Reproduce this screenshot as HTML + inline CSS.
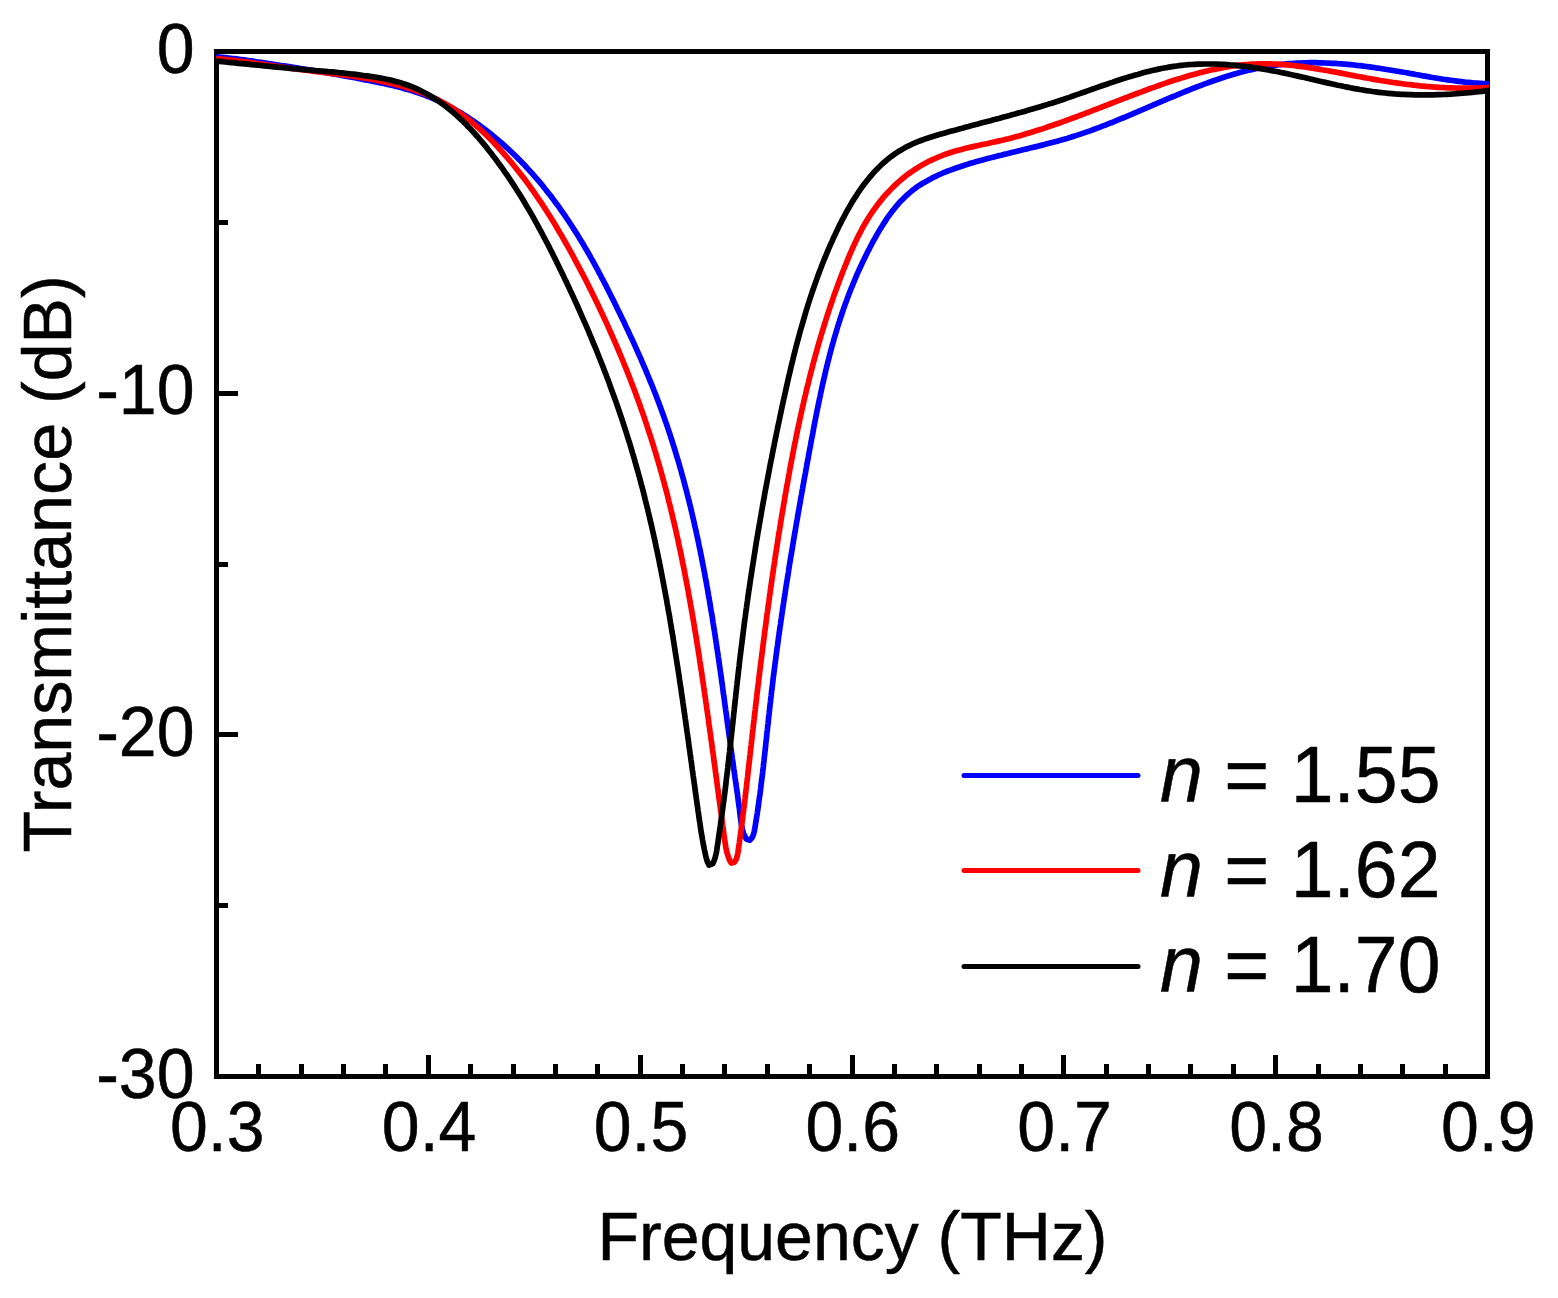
<!DOCTYPE html>
<html><head><meta charset="utf-8"><title>Transmittance vs Frequency</title>
<style>
html,body{margin:0;padding:0;background:#fff;}
body{width:1558px;height:1298px;overflow:hidden;}
svg{display:block;}
text{font-family:"Liberation Sans",Arial,sans-serif;fill:#000;stroke:#000;stroke-width:0.5px;}
</style></head><body>
<svg width="1558" height="1298" viewBox="0 0 1558 1298">
<defs><clipPath id="pc"><rect x="216" y="52" width="1273" height="1024"/></clipPath></defs>
<rect width="1558" height="1298" fill="#fff"/>
<g stroke="#000" stroke-width="5" fill="none" shape-rendering="crispEdges">
<rect x="216.5" y="51.5" width="1271.0" height="1025.0"/>
<path d="M258.5,1076.5v-12.5M301.5,1076.5v-12.5M343.5,1076.5v-12.5M385.5,1076.5v-12.5M428.5,1076.5v-22M470.5,1076.5v-12.5M513.5,1076.5v-12.5M555.5,1076.5v-12.5M597.5,1076.5v-12.5M640.5,1076.5v-22M682.5,1076.5v-12.5M724.5,1076.5v-12.5M767.5,1076.5v-12.5M809.5,1076.5v-12.5M852.5,1076.5v-22M894.5,1076.5v-12.5M936.5,1076.5v-12.5M979.5,1076.5v-12.5M1021.5,1076.5v-12.5M1063.5,1076.5v-22M1106.5,1076.5v-12.5M1148.5,1076.5v-12.5M1190.5,1076.5v-12.5M1233.5,1076.5v-12.5M1275.5,1076.5v-22M1318.5,1076.5v-12.5M1360.5,1076.5v-12.5M1402.5,1076.5v-12.5M1445.5,1076.5v-12.5M216.5,222.5h11.5M216.5,393.5h21.5M216.5,564.5h11.5M216.5,734.5h21.5M216.5,905.5h11.5"/>
</g>
<g fill="none" stroke-width="5.7" stroke-linejoin="round" stroke-linecap="butt" clip-path="url(#pc)">
<path d="M216.0,56.7L219.1,57.0L222.2,57.3L225.3,57.6L228.4,58.0L231.5,58.4L234.6,58.7L237.7,59.1L240.8,59.5L243.9,59.9L247.0,60.4L250.1,60.8L253.2,61.2L256.3,61.7L259.4,62.2L262.5,62.6L265.6,63.1L268.7,63.6L271.8,64.0L274.9,64.5L277.9,65.0L281.0,65.5L284.1,65.9L287.2,66.4L290.3,66.9L293.4,67.4L296.5,67.9L299.5,68.4L302.6,68.8L305.7,69.3L308.8,69.8L311.9,70.3L314.9,70.8L318.0,71.4L321.1,71.9L324.2,72.4L327.2,72.9L330.3,73.4L333.4,74.0L336.5,74.5L339.5,75.0L342.6,75.6L345.7,76.1L348.8,76.7L351.8,77.3L354.9,77.8L358.0,78.4L361.0,79.0L364.1,79.6L367.2,80.2L370.3,80.8L373.3,81.4L376.4,82.0L379.5,82.6L382.5,83.3L385.6,83.9L388.7,84.6L391.7,85.3L394.8,86.1L397.8,86.8L400.8,87.6L403.8,88.4L406.8,89.3L409.8,90.1L412.8,91.0L415.8,92.0L418.7,93.0L421.7,94.0L424.6,95.1L427.5,96.3L430.4,97.4L433.3,98.7L436.1,99.9L438.9,101.2L441.8,102.6L444.6,103.9L447.3,105.4L450.1,106.8L452.8,108.3L455.6,109.9L458.3,111.4L461.0,113.0L463.6,114.7L466.3,116.3L468.9,118.0L471.5,119.8L474.1,121.5L476.7,123.3L479.2,125.1L481.7,127.0L484.2,128.8L486.7,130.7L489.2,132.7L491.6,134.6L494.0,136.6L496.4,138.6L498.8,140.6L501.2,142.6L503.5,144.7L505.8,146.8L508.1,148.9L510.4,151.0L512.7,153.2L514.9,155.3L517.1,157.5L519.3,159.8L521.5,162.0L523.7,164.2L525.8,166.5L527.9,168.8L530.0,171.1L532.1,173.4L534.2,175.8L536.2,178.2L538.3,180.5L540.3,182.9L542.3,185.3L544.2,187.8L546.2,190.2L548.1,192.7L550.0,195.1L552.0,197.6L553.8,200.1L555.7,202.7L557.6,205.2L559.4,207.7L561.2,210.3L563.0,212.8L564.8,215.4L566.5,218.0L568.3,220.6L570.0,223.2L571.7,225.8L573.4,228.5L575.1,231.1L576.8,233.7L578.4,236.4L580.0,239.1L581.7,241.7L583.3,244.4L584.8,247.1L586.4,249.8L588.0,252.5L589.5,255.2L591.0,257.9L592.6,260.6L594.1,263.3L595.6,266.1L597.1,268.8L598.5,271.6L600.0,274.3L601.4,277.1L602.9,279.8L604.3,282.6L605.8,285.4L607.2,288.1L608.6,290.9L610.0,293.7L611.4,296.5L612.8,299.3L614.2,302.1L615.6,304.9L616.9,307.7L618.3,310.5L619.7,313.3L621.0,316.1L622.4,318.9L623.8,321.7L625.1,324.6L626.4,327.4L627.8,330.2L629.1,333.1L630.4,335.9L631.8,338.7L633.1,341.6L634.4,344.4L635.7,347.3L636.9,350.1L638.2,353.0L639.5,355.9L640.8,358.7L642.0,361.6L643.2,364.5L644.5,367.3L645.7,370.2L646.9,373.1L648.1,376.0L649.3,378.9L650.5,381.8L651.7,384.7L652.9,387.6L654.0,390.5L655.2,393.4L656.3,396.3L657.4,399.2L658.5,402.1L659.6,405.1L660.7,408.0L661.8,410.9L662.9,413.9L663.9,416.8L664.9,419.8L666.0,422.7L667.0,425.7L668.0,428.6L669.0,431.6L670.0,434.5L670.9,437.5L671.9,440.5L672.8,443.4L673.8,446.4L674.7,449.4L675.6,452.4L676.5,455.4L677.4,458.3L678.3,461.3L679.2,464.3L680.0,467.3L680.9,470.3L681.7,473.3L682.5,476.3L683.4,479.3L684.2,482.4L685.0,485.4L685.8,488.4L686.6,491.4L687.3,494.4L688.1,497.4L688.9,500.5L689.6,503.5L690.4,506.5L691.1,509.6L691.8,512.6L692.5,515.6L693.2,518.7L693.9,521.7L694.6,524.8L695.3,527.8L696.0,530.9L696.6,533.9L697.3,537.0L698.0,540.0L698.6,543.1L699.2,546.1L699.9,549.2L700.5,552.3L701.1,555.3L701.7,558.4L702.3,561.5L702.9,564.5L703.5,567.6L704.1,570.7L704.7,573.7L705.2,576.8L705.8,579.9L706.4,583.0L706.9,586.0L707.5,589.1L708.0,592.2L708.5,595.3L709.1,598.4L709.6,601.5L710.1,604.5L710.6,607.6L711.1,610.7L711.7,613.8L712.2,616.9L712.7,620.0L713.1,623.1L713.6,626.1L714.1,629.2L714.6,632.3L715.1,635.4L715.5,638.5L716.0,641.6L716.5,644.7L716.9,647.8L717.4,650.9L717.9,654.0L718.3,657.1L718.8,660.1L719.2,663.2L719.6,666.3L720.1,669.4L720.5,672.5L721.0,675.6L721.4,678.7L721.8,681.8L722.3,684.9L722.7,688.0L723.1,691.1L723.5,694.2L724.0,697.3L724.4,700.4L724.8,703.5L725.2,706.5L725.6,709.6L726.1,712.7L726.5,715.8L726.9,718.9L727.3,722.0L727.7,725.1L728.2,728.2L728.6,731.3L729.0,734.4L729.4,737.5L729.9,740.6L730.3,743.7L730.7,746.7L731.1,749.8L731.6,752.9L732.0,756.0L732.4,759.1L732.9,762.2L733.3,765.3L733.7,768.4L734.2,771.5L734.6,774.6L735.0,777.6L735.5,780.7L735.9,783.8L736.4,786.9L736.8,790.0L737.3,793.1L737.7,796.2L738.1,799.3L738.5,802.4L738.9,805.5L739.4,808.6L739.7,811.7L740.1,814.8L740.5,817.9L740.9,821.0L741.3,824.1L741.9,827.2L742.6,830.3L743.5,833.3L744.8,836.2L746.4,839.1L749.7,840.2L752.0,837.8L753.4,834.8L754.2,831.6L754.8,828.5L755.3,825.4L755.8,822.3L756.3,819.3L756.8,816.2L757.3,813.1L757.7,810.1L758.2,807.0L758.6,803.9L759.0,800.9L759.4,797.8L759.9,794.7L760.3,791.6L760.7,788.5L761.0,785.4L761.4,782.3L761.8,779.2L762.2,776.1L762.6,773.1L762.9,770.0L763.3,766.8L763.6,763.7L764.0,760.6L764.3,757.5L764.7,754.4L765.0,751.3L765.4,748.2L765.7,745.1L766.0,742.0L766.4,738.9L766.7,735.8L767.0,732.6L767.4,729.5L767.7,726.4L768.1,723.3L768.4,720.2L768.7,717.1L769.1,714.0L769.4,710.9L769.8,707.7L770.1,704.6L770.5,701.5L770.8,698.4L771.2,695.3L771.5,692.2L771.9,689.1L772.3,686.0L772.7,682.9L773.0,679.8L773.4,676.7L773.8,673.6L774.2,670.5L774.6,667.4L775.0,664.3L775.4,661.2L775.8,658.1L776.2,655.0L776.6,651.9L777.0,648.8L777.5,645.7L777.9,642.6L778.3,639.5L778.7,636.4L779.2,633.3L779.6,630.2L780.0,627.1L780.5,624.1L780.9,621.0L781.4,617.9L781.8,614.8L782.3,611.7L782.7,608.6L783.2,605.5L783.7,602.4L784.1,599.4L784.6,596.3L785.1,593.2L785.5,590.1L786.0,587.0L786.5,583.9L787.0,580.9L787.5,577.8L788.0,574.7L788.5,571.6L788.9,568.5L789.4,565.5L789.9,562.4L790.4,559.3L790.9,556.2L791.5,553.1L792.0,550.1L792.5,547.0L793.0,543.9L793.5,540.8L794.0,537.8L794.5,534.7L795.1,531.6L795.6,528.5L796.1,525.4L796.6,522.4L797.2,519.3L797.7,516.2L798.2,513.1L798.8,510.1L799.3,507.0L799.9,503.9L800.4,500.8L800.9,497.8L801.5,494.7L802.0,491.6L802.6,488.5L803.1,485.5L803.7,482.4L804.2,479.3L804.8,476.2L805.4,473.2L805.9,470.1L806.5,467.0L807.0,463.9L807.6,460.9L808.2,457.8L808.7,454.7L809.3,451.6L809.9,448.5L810.5,445.5L811.0,442.4L811.6,439.3L812.2,436.2L812.8,433.2L813.3,430.1L813.9,427.0L814.5,423.9L815.1,420.9L815.7,417.8L816.3,414.7L816.9,411.6L817.5,408.6L818.2,405.5L818.8,402.4L819.4,399.4L820.1,396.3L820.7,393.3L821.4,390.2L822.0,387.1L822.7,384.1L823.4,381.0L824.1,378.0L824.8,375.0L825.5,371.9L826.2,368.9L827.0,365.8L827.7,362.8L828.5,359.8L829.2,356.8L830.0,353.8L830.8,350.7L831.6,347.7L832.4,344.7L833.3,341.7L834.1,338.7L835.0,335.7L835.9,332.8L836.8,329.8L837.7,326.8L838.6,323.8L839.6,320.9L840.5,317.9L841.5,315.0L842.5,312.0L843.5,309.1L844.5,306.1L845.6,303.2L846.7,300.3L847.7,297.4L848.8,294.5L850.0,291.5L851.1,288.6L852.3,285.8L853.5,282.9L854.7,280.0L855.9,277.1L857.1,274.2L858.4,271.4L859.7,268.5L861.0,265.7L862.3,262.9L863.7,260.0L865.0,257.2L866.4,254.4L867.8,251.6L869.3,248.8L870.7,246.0L872.2,243.2L873.7,240.4L875.3,237.6L876.8,234.9L878.4,232.1L880.0,229.4L881.7,226.7L883.4,224.0L885.1,221.4L886.8,218.7L888.6,216.2L890.5,213.6L892.3,211.1L894.3,208.7L896.2,206.3L898.3,203.9L900.3,201.6L902.5,199.4L904.7,197.2L906.9,195.1L909.2,193.1L911.6,191.1L914.0,189.2L916.4,187.4L919.0,185.7L921.6,184.0L924.2,182.4L926.9,180.9L929.6,179.4L932.3,177.9L935.1,176.6L938.0,175.2L940.8,174.0L943.7,172.7L946.6,171.5L949.6,170.4L952.5,169.3L955.5,168.2L958.5,167.2L961.5,166.2L964.5,165.2L967.6,164.3L970.6,163.3L973.6,162.4L976.6,161.6L979.7,160.7L982.7,159.9L985.7,159.1L988.7,158.2L991.8,157.5L994.8,156.7L997.8,155.9L1000.9,155.2L1003.9,154.4L1006.9,153.7L1010.0,152.9L1013.0,152.2L1016.0,151.5L1019.0,150.7L1022.0,150.0L1025.1,149.3L1028.1,148.6L1031.1,147.8L1034.1,147.1L1037.1,146.4L1040.1,145.6L1043.1,144.9L1046.1,144.1L1049.1,143.3L1052.1,142.5L1055.1,141.7L1058.1,140.9L1061.1,140.1L1064.1,139.2L1067.1,138.4L1070.0,137.5L1073.0,136.5L1075.9,135.6L1078.9,134.6L1081.9,133.6L1084.8,132.6L1087.7,131.6L1090.7,130.6L1093.6,129.5L1096.6,128.4L1099.5,127.3L1102.4,126.2L1105.3,125.1L1108.2,123.9L1111.2,122.8L1114.1,121.6L1117.0,120.4L1119.9,119.2L1122.8,118.0L1125.7,116.8L1128.6,115.6L1131.5,114.4L1134.4,113.1L1137.3,111.9L1140.2,110.6L1143.1,109.4L1146.0,108.2L1148.9,106.9L1151.8,105.7L1154.7,104.4L1157.6,103.2L1160.5,101.9L1163.4,100.7L1166.3,99.4L1169.2,98.2L1172.1,97.0L1175.0,95.8L1177.9,94.6L1180.8,93.4L1183.7,92.2L1186.6,91.0L1189.5,89.8L1192.4,88.7L1195.4,87.5L1198.3,86.4L1201.2,85.3L1204.1,84.2L1207.1,83.1L1210.0,82.0L1212.9,81.0L1215.9,80.0L1218.8,79.0L1221.8,78.0L1224.7,77.0L1227.7,76.1L1230.6,75.2L1233.6,74.3L1236.6,73.4L1239.6,72.6L1242.5,71.8L1245.5,71.0L1248.5,70.3L1251.5,69.6L1254.5,68.9L1257.6,68.2L1260.6,67.6L1263.6,67.0L1266.7,66.5L1269.7,66.0L1272.8,65.5L1275.8,65.1L1278.9,64.7L1282.0,64.3L1285.0,64.0L1288.1,63.7L1291.2,63.5L1294.3,63.3L1297.4,63.1L1300.5,63.0L1303.7,62.9L1306.8,62.8L1309.9,62.7L1313.0,62.7L1316.2,62.7L1319.3,62.8L1322.5,62.9L1325.6,63.0L1328.7,63.1L1331.9,63.3L1335.0,63.4L1338.2,63.7L1341.3,63.9L1344.5,64.1L1347.6,64.4L1350.7,64.7L1353.9,65.0L1357.0,65.4L1360.2,65.7L1363.3,66.1L1366.4,66.5L1369.5,66.9L1372.7,67.3L1375.8,67.8L1378.9,68.2L1382.0,68.7L1385.1,69.2L1388.2,69.7L1391.3,70.2L1394.4,70.7L1397.5,71.2L1400.5,71.7L1403.6,72.3L1406.7,72.8L1409.7,73.4L1412.8,73.9L1415.8,74.5L1418.9,75.0L1421.9,75.6L1425.0,76.1L1428.0,76.6L1431.1,77.2L1434.1,77.7L1437.2,78.2L1440.2,78.7L1443.3,79.2L1446.3,79.6L1449.4,80.1L1452.5,80.5L1455.5,80.9L1458.6,81.3L1461.7,81.7L1464.8,82.1L1467.9,82.4L1471.1,82.7L1474.2,83.0L1477.3,83.2L1480.5,83.4L1483.6,83.6L1486.8,83.8L1490.0,83.9L1490.0,83.9" stroke="#0000ff"/>
<path d="M216.0,58.6L219.2,58.9L222.4,59.2L225.6,59.5L228.7,59.9L231.9,60.2L235.1,60.6L238.3,61.0L241.4,61.4L244.6,61.8L247.8,62.2L250.9,62.6L254.1,63.0L257.3,63.5L260.4,63.9L263.6,64.4L266.8,64.8L269.9,65.3L273.1,65.7L276.2,66.2L279.4,66.6L282.6,67.1L285.7,67.5L288.9,68.0L292.1,68.4L295.2,68.8L298.4,69.3L301.6,69.7L304.7,70.1L307.9,70.5L311.1,70.9L314.3,71.3L317.4,71.7L320.6,72.0L323.8,72.4L327.0,72.8L330.1,73.2L333.3,73.6L336.5,74.0L339.7,74.4L342.8,74.8L346.0,75.3L349.2,75.7L352.3,76.2L355.5,76.6L358.7,77.1L361.8,77.6L365.0,78.1L368.1,78.7L371.3,79.2L374.4,79.8L377.5,80.4L380.7,81.1L383.8,81.7L386.9,82.4L390.0,83.1L393.2,83.9L396.3,84.7L399.4,85.5L402.4,86.3L405.5,87.2L408.6,88.2L411.6,89.1L414.7,90.1L417.7,91.2L420.7,92.3L423.7,93.4L426.6,94.6L429.6,95.9L432.5,97.2L435.4,98.5L438.2,99.9L441.0,101.4L443.8,102.9L446.6,104.5L449.3,106.1L452.0,107.7L454.7,109.5L457.3,111.3L460.0,113.1L462.5,114.9L465.1,116.9L467.6,118.8L470.1,120.8L472.6,122.8L475.0,124.9L477.4,127.0L479.8,129.2L482.2,131.3L484.5,133.5L486.9,135.8L489.1,138.0L491.4,140.3L493.7,142.6L495.9,145.0L498.1,147.3L500.2,149.7L502.4,152.1L504.5,154.5L506.6,156.9L508.7,159.3L510.8,161.8L512.8,164.3L514.8,166.7L516.8,169.2L518.8,171.7L520.8,174.2L522.7,176.8L524.7,179.3L526.6,181.9L528.5,184.4L530.3,187.0L532.2,189.6L534.0,192.2L535.8,194.8L537.6,197.5L539.4,200.1L541.2,202.7L543.0,205.4L544.7,208.1L546.4,210.7L548.1,213.4L549.8,216.1L551.5,218.8L553.2,221.5L554.9,224.3L556.5,227.0L558.1,229.7L559.7,232.5L561.4,235.2L562.9,238.0L564.5,240.7L566.1,243.5L567.7,246.3L569.2,249.1L570.8,251.9L572.3,254.7L573.8,257.5L575.3,260.3L576.8,263.1L578.3,265.9L579.8,268.8L581.3,271.6L582.8,274.4L584.3,277.3L585.7,280.1L587.2,283.0L588.6,285.8L590.0,288.7L591.5,291.5L592.9,294.4L594.3,297.3L595.7,300.2L597.1,303.0L598.5,305.9L599.8,308.8L601.2,311.7L602.6,314.6L603.9,317.5L605.3,320.4L606.6,323.3L607.9,326.2L609.2,329.1L610.5,332.1L611.8,335.0L613.1,337.9L614.4,340.9L615.7,343.8L616.9,346.7L618.2,349.7L619.4,352.6L620.7,355.6L621.9,358.5L623.1,361.5L624.3,364.5L625.5,367.4L626.7,370.4L627.9,373.4L629.1,376.3L630.2,379.3L631.4,382.3L632.5,385.3L633.7,388.3L634.8,391.3L635.9,394.3L637.0,397.3L638.1,400.3L639.2,403.3L640.3,406.3L641.3,409.3L642.4,412.3L643.5,415.4L644.5,418.4L645.5,421.4L646.5,424.4L647.5,427.5L648.5,430.5L649.5,433.5L650.5,436.6L651.5,439.6L652.4,442.7L653.4,445.7L654.3,448.8L655.3,451.8L656.2,454.9L657.1,458.0L658.0,461.0L658.9,464.1L659.8,467.2L660.6,470.2L661.5,473.3L662.3,476.4L663.2,479.5L664.0,482.5L664.8,485.6L665.7,488.7L666.5,491.8L667.3,494.9L668.1,498.0L668.8,501.1L669.6,504.2L670.4,507.3L671.1,510.4L671.9,513.5L672.6,516.6L673.3,519.7L674.1,522.8L674.8,525.9L675.5,529.0L676.2,532.2L676.9,535.3L677.6,538.4L678.3,541.5L678.9,544.6L679.6,547.8L680.3,550.9L680.9,554.0L681.6,557.1L682.2,560.3L682.8,563.4L683.5,566.5L684.1,569.7L684.7,572.8L685.3,576.0L685.9,579.1L686.5,582.2L687.1,585.4L687.7,588.5L688.3,591.7L688.8,594.8L689.4,598.0L690.0,601.1L690.5,604.3L691.1,607.4L691.6,610.6L692.2,613.7L692.7,616.9L693.3,620.0L693.8,623.2L694.3,626.3L694.8,629.5L695.4,632.6L695.9,635.8L696.4,639.0L696.9,642.1L697.4,645.3L697.9,648.4L698.4,651.6L698.9,654.8L699.4,657.9L699.8,661.1L700.3,664.3L700.8,667.4L701.3,670.6L701.8,673.7L702.2,676.9L702.7,680.1L703.2,683.2L703.6,686.4L704.1,689.6L704.5,692.7L705.0,695.9L705.5,699.1L705.9,702.2L706.4,705.4L706.8,708.6L707.3,711.7L707.7,714.9L708.2,718.0L708.6,721.2L709.0,724.4L709.5,727.5L709.9,730.7L710.4,733.9L710.8,737.0L711.2,740.2L711.7,743.4L712.1,746.5L712.5,749.7L713.0,752.9L713.4,756.0L713.8,759.2L714.2,762.3L714.7,765.5L715.1,768.7L715.5,771.8L715.9,775.0L716.4,778.2L716.8,781.3L717.2,784.5L717.6,787.7L718.1,790.8L718.5,794.0L718.9,797.2L719.3,800.3L719.8,803.5L720.2,806.7L720.6,809.8L721.0,813.0L721.5,816.2L721.9,819.3L722.3,822.5L722.7,825.6L723.2,828.8L723.6,832.0L724.0,835.1L724.4,838.3L724.9,841.5L725.4,844.6L725.9,847.8L726.6,851.0L727.4,854.1L728.5,857.2L729.7,860.4L731.3,863.0L734.4,862.2L736.2,859.3L737.2,856.1L737.9,852.7L738.4,849.5L738.8,846.3L739.3,843.1L739.7,840.0L740.2,836.8L740.6,833.7L741.0,830.6L741.4,827.4L741.8,824.3L742.2,821.1L742.6,818.0L743.0,814.8L743.4,811.7L743.8,808.5L744.2,805.3L744.6,802.2L745.0,799.0L745.3,795.8L745.7,792.7L746.1,789.5L746.5,786.3L746.8,783.1L747.2,780.0L747.6,776.8L747.9,773.6L748.3,770.4L748.6,767.2L749.0,764.1L749.4,760.9L749.7,757.7L750.1,754.5L750.4,751.3L750.8,748.1L751.2,745.0L751.5,741.8L751.9,738.6L752.2,735.4L752.6,732.2L753.0,729.0L753.3,725.9L753.7,722.7L754.1,719.5L754.4,716.3L754.8,713.1L755.2,710.0L755.5,706.8L755.9,703.6L756.3,700.4L756.7,697.3L757.0,694.1L757.4,690.9L757.8,687.7L758.2,684.5L758.6,681.4L758.9,678.2L759.3,675.0L759.7,671.9L760.1,668.7L760.5,665.5L760.9,662.3L761.3,659.2L761.7,656.0L762.1,652.8L762.5,649.7L762.9,646.5L763.3,643.3L763.7,640.1L764.1,637.0L764.5,633.8L764.9,630.6L765.4,627.5L765.8,624.3L766.2,621.1L766.6,618.0L767.0,614.8L767.5,611.6L767.9,608.5L768.3,605.3L768.8,602.1L769.2,599.0L769.6,595.8L770.1,592.7L770.5,589.5L771.0,586.3L771.4,583.2L771.9,580.0L772.3,576.9L772.8,573.7L773.3,570.5L773.7,567.4L774.2,564.2L774.7,561.1L775.1,557.9L775.6,554.7L776.1,551.6L776.6,548.4L777.1,545.3L777.6,542.1L778.1,539.0L778.5,535.8L779.0,532.7L779.6,529.5L780.1,526.3L780.6,523.2L781.1,520.0L781.6,516.9L782.1,513.7L782.7,510.6L783.2,507.4L783.7,504.3L784.3,501.1L784.8,498.0L785.3,494.8L785.9,491.7L786.4,488.5L787.0,485.4L787.6,482.2L788.1,479.1L788.7,475.9L789.3,472.8L789.8,469.7L790.4,466.5L791.0,463.4L791.6,460.2L792.2,457.1L792.8,453.9L793.4,450.8L794.0,447.7L794.6,444.5L795.3,441.4L795.9,438.2L796.5,435.1L797.2,432.0L797.8,428.8L798.5,425.7L799.2,422.6L799.8,419.5L800.5,416.3L801.2,413.2L801.9,410.1L802.6,407.0L803.3,403.8L804.0,400.7L804.7,397.6L805.5,394.5L806.2,391.4L806.9,388.3L807.7,385.2L808.5,382.1L809.2,379.0L810.0,375.9L810.8,372.8L811.6,369.7L812.4,366.6L813.2,363.5L814.0,360.4L814.9,357.3L815.7,354.2L816.6,351.2L817.4,348.1L818.3,345.0L819.2,341.9L820.1,338.9L821.0,335.8L821.9,332.7L822.8,329.7L823.8,326.6L824.7,323.6L825.7,320.5L826.6,317.5L827.6,314.5L828.6,311.4L829.6,308.4L830.6,305.4L831.7,302.3L832.7,299.3L833.7,296.3L834.8,293.3L835.9,290.3L837.0,287.3L838.1,284.3L839.2,281.3L840.3,278.3L841.5,275.3L842.6,272.3L843.8,269.3L845.0,266.3L846.2,263.4L847.4,260.4L848.6,257.4L849.8,254.5L851.1,251.6L852.4,248.6L853.7,245.7L855.1,242.8L856.4,239.9L857.8,237.0L859.3,234.2L860.7,231.4L862.2,228.5L863.8,225.7L865.4,223.0L867.0,220.2L868.7,217.5L870.4,214.8L872.2,212.2L874.0,209.6L875.9,207.0L877.8,204.4L879.8,201.9L881.8,199.4L883.8,196.9L885.9,194.5L888.1,192.2L890.3,189.9L892.5,187.6L894.8,185.4L897.2,183.2L899.5,181.1L902.0,179.0L904.4,177.0L906.9,175.0L909.5,173.1L912.1,171.3L914.7,169.5L917.4,167.8L920.1,166.1L922.9,164.5L925.7,163.0L928.5,161.5L931.4,160.1L934.3,158.8L937.3,157.5L940.2,156.3L943.2,155.1L946.2,154.0L949.3,153.0L952.3,152.0L955.4,151.1L958.5,150.2L961.6,149.4L964.7,148.6L967.8,147.8L970.9,147.1L974.1,146.4L977.2,145.7L980.4,145.0L983.5,144.3L986.7,143.7L989.8,143.0L992.9,142.3L996.1,141.6L999.2,140.9L1002.3,140.2L1005.4,139.4L1008.5,138.7L1011.6,137.9L1014.7,137.1L1017.8,136.2L1020.9,135.4L1023.9,134.5L1027.0,133.6L1030.0,132.7L1033.1,131.7L1036.1,130.8L1039.2,129.8L1042.2,128.9L1045.2,127.9L1048.2,126.8L1051.2,125.8L1054.2,124.8L1057.2,123.7L1060.2,122.7L1063.2,121.6L1066.2,120.5L1069.2,119.4L1072.2,118.3L1075.2,117.2L1078.2,116.1L1081.1,115.0L1084.1,113.9L1087.1,112.7L1090.1,111.6L1093.0,110.4L1096.0,109.3L1099.0,108.1L1102.0,107.0L1104.9,105.8L1107.9,104.7L1110.9,103.5L1113.9,102.4L1116.9,101.2L1119.8,100.1L1122.8,98.9L1125.8,97.8L1128.8,96.6L1131.8,95.5L1134.8,94.3L1137.8,93.2L1140.8,92.1L1143.8,91.0L1146.8,89.8L1149.8,88.7L1152.9,87.6L1155.9,86.6L1158.9,85.5L1162.0,84.4L1165.0,83.4L1168.1,82.3L1171.1,81.3L1174.2,80.3L1177.2,79.3L1180.3,78.4L1183.4,77.4L1186.5,76.5L1189.5,75.6L1192.6,74.7L1195.7,73.9L1198.8,73.1L1201.9,72.3L1205.0,71.5L1208.1,70.8L1211.2,70.0L1214.4,69.4L1217.5,68.7L1220.6,68.1L1223.7,67.5L1226.8,67.0L1230.0,66.5L1233.1,66.0L1236.3,65.6L1239.4,65.2L1242.5,64.9L1245.7,64.6L1248.8,64.4L1252.0,64.1L1255.1,64.0L1258.3,63.9L1261.5,63.8L1264.6,63.8L1267.8,63.8L1271.0,63.9L1274.1,64.0L1277.3,64.2L1280.5,64.4L1283.6,64.6L1286.8,64.9L1290.0,65.2L1293.2,65.5L1296.4,65.9L1299.5,66.3L1302.7,66.7L1305.9,67.1L1309.1,67.6L1312.3,68.1L1315.4,68.6L1318.6,69.1L1321.8,69.7L1325.0,70.2L1328.2,70.8L1331.4,71.4L1334.5,71.9L1337.7,72.5L1340.9,73.1L1344.1,73.7L1347.2,74.4L1350.4,75.0L1353.6,75.6L1356.8,76.2L1359.9,76.8L1363.1,77.4L1366.3,78.0L1369.4,78.5L1372.6,79.1L1375.8,79.6L1378.9,80.2L1382.1,80.7L1385.2,81.2L1388.4,81.7L1391.5,82.2L1394.7,82.7L1397.8,83.1L1401.0,83.5L1404.1,84.0L1407.3,84.4L1410.4,84.7L1413.6,85.1L1416.7,85.4L1419.9,85.8L1423.0,86.1L1426.2,86.4L1429.3,86.6L1432.5,86.9L1435.7,87.1L1438.8,87.3L1442.0,87.5L1445.2,87.7L1448.3,87.8L1451.5,87.9L1454.7,88.0L1457.9,88.1L1461.1,88.1L1464.3,88.1L1467.5,88.1L1470.7,88.1L1473.9,88.1L1477.1,88.0L1480.3,87.9L1483.5,87.8L1486.8,87.6L1490.0,87.4L1490.0,87.4" stroke="#ff0000"/>
<path d="M216.0,61.0L219.2,61.3L222.4,61.6L225.6,62.0L228.8,62.3L232.0,62.6L235.2,62.9L238.4,63.3L241.6,63.6L244.8,63.9L248.1,64.2L251.3,64.6L254.5,64.9L257.7,65.2L260.9,65.5L264.2,65.9L267.4,66.2L270.6,66.5L273.8,66.8L277.1,67.1L280.3,67.4L283.5,67.7L286.7,68.0L289.9,68.3L293.2,68.6L296.4,68.9L299.6,69.2L302.8,69.5L306.0,69.8L309.2,70.0L312.4,70.3L315.6,70.6L318.7,70.8L321.9,71.1L325.1,71.4L328.3,71.7L331.5,71.9L334.7,72.2L337.9,72.5L341.1,72.8L344.3,73.2L347.5,73.5L350.7,73.9L353.9,74.2L357.1,74.6L360.3,75.0L363.5,75.5L366.8,75.9L370.0,76.4L373.2,76.9L376.5,77.4L379.7,77.9L383.0,78.5L386.2,79.2L389.4,79.9L392.6,80.6L395.8,81.4L398.9,82.3L402.0,83.2L405.1,84.2L408.1,85.3L411.1,86.4L414.1,87.6L417.0,88.9L419.9,90.3L422.7,91.7L425.6,93.2L428.3,94.7L431.1,96.3L433.8,98.0L436.4,99.7L439.1,101.5L441.7,103.4L444.3,105.3L446.8,107.2L449.3,109.2L451.8,111.2L454.2,113.3L456.6,115.4L459.0,117.6L461.4,119.8L463.7,122.1L466.0,124.3L468.2,126.7L470.5,129.0L472.7,131.4L474.9,133.8L477.1,136.2L479.2,138.7L481.3,141.1L483.4,143.6L485.5,146.1L487.5,148.7L489.5,151.2L491.5,153.8L493.5,156.4L495.5,159.0L497.4,161.6L499.3,164.2L501.2,166.8L503.1,169.4L504.9,172.1L506.8,174.7L508.6,177.4L510.4,180.1L512.2,182.8L513.9,185.4L515.7,188.2L517.4,190.9L519.1,193.6L520.8,196.3L522.5,199.1L524.2,201.8L525.8,204.6L527.4,207.4L529.1,210.1L530.7,212.9L532.3,215.7L533.9,218.5L535.4,221.3L537.0,224.1L538.5,227.0L540.1,229.8L541.6,232.6L543.1,235.5L544.6,238.3L546.1,241.2L547.6,244.0L549.1,246.9L550.5,249.8L552.0,252.6L553.4,255.5L554.9,258.4L556.3,261.3L557.7,264.2L559.1,267.1L560.5,270.0L562.0,272.9L563.4,275.8L564.7,278.7L566.1,281.6L567.5,284.5L568.9,287.4L570.2,290.4L571.6,293.3L573.0,296.2L574.3,299.1L575.6,302.1L577.0,305.0L578.3,308.0L579.6,310.9L580.9,313.9L582.2,316.8L583.5,319.8L584.8,322.7L586.1,325.7L587.4,328.7L588.7,331.6L589.9,334.6L591.2,337.6L592.4,340.6L593.6,343.6L594.9,346.5L596.1,349.5L597.3,352.5L598.5,355.5L599.7,358.5L600.9,361.5L602.1,364.5L603.3,367.5L604.4,370.6L605.6,373.6L606.7,376.6L607.9,379.6L609.0,382.6L610.1,385.7L611.2,388.7L612.3,391.7L613.4,394.8L614.5,397.8L615.6,400.8L616.7,403.9L617.7,406.9L618.8,410.0L619.8,413.0L620.9,416.1L621.9,419.1L622.9,422.2L623.9,425.3L624.9,428.3L625.9,431.4L626.9,434.5L627.8,437.6L628.8,440.6L629.8,443.7L630.7,446.8L631.6,449.9L632.5,453.0L633.5,456.1L634.4,459.2L635.2,462.3L636.1,465.4L637.0,468.5L637.9,471.6L638.7,474.7L639.6,477.8L640.4,480.9L641.2,484.0L642.1,487.1L642.9,490.2L643.7,493.4L644.5,496.5L645.2,499.6L646.0,502.7L646.8,505.9L647.6,509.0L648.3,512.1L649.1,515.3L649.8,518.4L650.5,521.5L651.3,524.7L652.0,527.8L652.7,531.0L653.4,534.1L654.1,537.3L654.8,540.4L655.5,543.6L656.1,546.7L656.8,549.9L657.5,553.0L658.1,556.2L658.8,559.3L659.4,562.5L660.0,565.7L660.7,568.8L661.3,572.0L661.9,575.2L662.5,578.3L663.1,581.5L663.7,584.7L664.3,587.8L664.9,591.0L665.5,594.2L666.1,597.4L666.7,600.5L667.2,603.7L667.8,606.9L668.3,610.1L668.9,613.3L669.5,616.4L670.0,619.6L670.5,622.8L671.1,626.0L671.6,629.2L672.1,632.4L672.7,635.5L673.2,638.7L673.7,641.9L674.2,645.1L674.7,648.3L675.2,651.5L675.7,654.7L676.2,657.9L676.7,661.1L677.2,664.3L677.7,667.5L678.2,670.6L678.7,673.8L679.2,677.0L679.6,680.2L680.1,683.4L680.6,686.6L681.1,689.8L681.5,693.0L682.0,696.2L682.5,699.4L682.9,702.6L683.4,705.8L683.8,709.0L684.3,712.2L684.8,715.4L685.2,718.6L685.7,721.8L686.1,725.0L686.6,728.2L687.0,731.4L687.5,734.6L687.9,737.8L688.4,741.0L688.8,744.2L689.2,747.3L689.7,750.5L690.1,753.7L690.6,756.9L691.0,760.1L691.5,763.3L691.9,766.5L692.3,769.7L692.8,772.9L693.2,776.1L693.7,779.3L694.1,782.5L694.6,785.6L695.0,788.8L695.4,792.0L695.9,795.2L696.3,798.4L696.8,801.6L697.2,804.8L697.7,807.9L698.1,811.1L698.6,814.3L699.0,817.5L699.5,820.7L700.0,823.8L700.4,827.0L700.9,830.2L701.4,833.4L702.0,836.5L702.5,839.7L703.1,842.9L703.7,846.1L704.3,849.3L705.0,852.5L705.7,855.7L706.5,858.9L707.5,862.1L709.1,865.1L712.8,863.6L714.2,860.4L715.2,857.3L716.0,854.1L716.7,850.9L717.1,847.8L717.6,844.6L718.1,841.4L718.5,838.2L719.0,835.0L719.5,831.8L719.9,828.6L720.4,825.4L720.8,822.2L721.3,819.0L721.7,815.9L722.2,812.7L722.6,809.5L723.0,806.3L723.4,803.1L723.9,799.9L724.3,796.7L724.7,793.5L725.1,790.3L725.5,787.1L725.9,783.9L726.2,780.7L726.6,777.5L727.0,774.3L727.4,771.1L727.8,767.8L728.1,764.6L728.5,761.4L728.9,758.2L729.2,755.0L729.6,751.8L729.9,748.6L730.3,745.4L730.7,742.2L731.0,739.0L731.4,735.8L731.7,732.6L732.1,729.4L732.4,726.2L732.8,723.0L733.1,719.8L733.5,716.6L733.8,713.3L734.2,710.1L734.5,706.9L734.9,703.7L735.2,700.5L735.6,697.3L735.9,694.1L736.3,690.9L736.6,687.7L737.0,684.5L737.3,681.3L737.7,678.1L738.1,674.9L738.4,671.7L738.8,668.5L739.2,665.3L739.5,662.0L739.9,658.8L740.3,655.6L740.7,652.4L741.1,649.2L741.5,646.0L741.9,642.8L742.3,639.6L742.7,636.4L743.1,633.2L743.5,630.0L743.9,626.8L744.3,623.6L744.7,620.4L745.2,617.2L745.6,614.0L746.0,610.8L746.5,607.6L746.9,604.4L747.4,601.2L747.8,598.0L748.3,594.8L748.7,591.7L749.2,588.5L749.7,585.3L750.1,582.1L750.6,578.9L751.1,575.7L751.6,572.5L752.1,569.3L752.6,566.1L753.1,562.9L753.6,559.7L754.1,556.6L754.6,553.4L755.1,550.2L755.6,547.0L756.1,543.8L756.6,540.6L757.2,537.4L757.7,534.3L758.2,531.1L758.8,527.9L759.3,524.7L759.9,521.5L760.4,518.4L761.0,515.2L761.5,512.0L762.1,508.8L762.6,505.6L763.2,502.5L763.8,499.3L764.4,496.1L764.9,492.9L765.5,489.8L766.1,486.6L766.7,483.4L767.3,480.2L767.9,477.1L768.5,473.9L769.1,470.7L769.7,467.6L770.3,464.4L770.9,461.2L771.6,458.1L772.2,454.9L772.8,451.7L773.4,448.6L774.1,445.4L774.7,442.2L775.3,439.1L776.0,435.9L776.6,432.8L777.3,429.6L777.9,426.4L778.6,423.3L779.3,420.1L779.9,417.0L780.6,413.8L781.3,410.7L781.9,407.5L782.6,404.4L783.3,401.2L784.0,398.1L784.7,394.9L785.4,391.8L786.1,388.6L786.8,385.5L787.5,382.3L788.2,379.2L788.9,376.1L789.7,372.9L790.4,369.8L791.1,366.7L791.9,363.5L792.7,360.4L793.4,357.3L794.2,354.1L795.0,351.0L795.8,347.9L796.6,344.8L797.4,341.7L798.3,338.6L799.1,335.5L799.9,332.4L800.8,329.3L801.7,326.2L802.6,323.1L803.5,320.0L804.4,316.9L805.3,313.8L806.2,310.7L807.2,307.6L808.1,304.6L809.1,301.5L810.1,298.4L811.1,295.4L812.1,292.3L813.2,289.3L814.2,286.2L815.3,283.2L816.4,280.1L817.5,277.1L818.6,274.1L819.7,271.0L820.9,268.0L822.0,265.0L823.2,262.0L824.4,259.0L825.7,256.0L826.9,253.0L828.2,250.0L829.4,247.0L830.7,244.1L832.1,241.1L833.4,238.1L834.8,235.2L836.2,232.2L837.6,229.3L839.0,226.3L840.5,223.4L841.9,220.5L843.5,217.6L845.0,214.7L846.5,211.8L848.1,209.0L849.8,206.1L851.4,203.3L853.1,200.5L854.8,197.8L856.6,195.1L858.3,192.4L860.2,189.7L862.0,187.1L863.9,184.5L865.9,182.0L867.9,179.5L869.9,177.0L872.0,174.6L874.1,172.2L876.2,169.9L878.4,167.7L880.7,165.5L883.0,163.3L885.4,161.3L887.8,159.2L890.2,157.3L892.8,155.4L895.3,153.6L898.0,151.8L900.7,150.2L903.4,148.6L906.2,147.0L909.1,145.6L912.0,144.2L915.0,142.9L918.0,141.7L921.0,140.5L924.1,139.3L927.3,138.3L930.4,137.2L933.6,136.2L936.8,135.2L939.9,134.3L943.2,133.4L946.4,132.5L949.6,131.6L952.8,130.7L955.9,129.9L959.1,129.0L962.3,128.2L965.4,127.3L968.6,126.5L971.7,125.6L974.9,124.8L978.0,124.0L981.1,123.1L984.2,122.3L987.3,121.5L990.4,120.7L993.5,119.8L996.6,119.0L999.7,118.2L1002.8,117.3L1005.9,116.5L1008.9,115.7L1012.0,114.8L1015.1,114.0L1018.1,113.1L1021.2,112.3L1024.3,111.4L1027.3,110.5L1030.4,109.6L1033.4,108.7L1036.5,107.8L1039.5,106.9L1042.6,106.0L1045.6,105.1L1048.6,104.1L1051.7,103.2L1054.7,102.2L1057.8,101.2L1060.8,100.2L1063.9,99.2L1066.9,98.1L1070.0,97.1L1073.0,96.0L1076.1,94.9L1079.1,93.9L1082.2,92.8L1085.2,91.7L1088.3,90.6L1091.4,89.5L1094.4,88.5L1097.5,87.4L1100.6,86.3L1103.6,85.2L1106.7,84.2L1109.8,83.1L1112.9,82.1L1116.0,81.0L1119.1,80.0L1122.1,79.0L1125.2,78.1L1128.3,77.1L1131.4,76.2L1134.6,75.2L1137.7,74.4L1140.8,73.5L1143.9,72.6L1147.0,71.8L1150.1,71.1L1153.3,70.3L1156.4,69.6L1159.6,68.9L1162.7,68.3L1165.9,67.7L1169.0,67.1L1172.2,66.6L1175.4,66.2L1178.5,65.7L1181.7,65.3L1184.9,65.0L1188.1,64.7L1191.3,64.5L1194.5,64.3L1197.7,64.2L1200.9,64.1L1204.1,64.0L1207.3,64.0L1210.6,64.0L1213.8,64.0L1217.0,64.1L1220.2,64.3L1223.5,64.4L1226.7,64.6L1229.9,64.9L1233.1,65.1L1236.3,65.4L1239.6,65.8L1242.8,66.1L1246.0,66.5L1249.2,66.9L1252.4,67.4L1255.6,67.9L1258.8,68.4L1262.0,68.9L1265.2,69.4L1268.4,70.0L1271.6,70.6L1274.8,71.2L1278.0,71.8L1281.1,72.5L1284.3,73.1L1287.4,73.8L1290.6,74.5L1293.8,75.2L1296.9,75.9L1300.0,76.6L1303.2,77.3L1306.3,78.0L1309.5,78.8L1312.6,79.5L1315.7,80.2L1318.9,81.0L1322.0,81.7L1325.2,82.4L1328.3,83.1L1331.4,83.8L1334.6,84.5L1337.7,85.2L1340.9,85.8L1344.0,86.5L1347.2,87.1L1350.3,87.8L1353.5,88.4L1356.6,88.9L1359.8,89.5L1363.0,90.0L1366.1,90.6L1369.3,91.0L1372.5,91.5L1375.7,91.9L1378.9,92.3L1382.1,92.7L1385.3,93.0L1388.5,93.3L1391.7,93.6L1395.0,93.9L1398.2,94.1L1401.4,94.3L1404.7,94.4L1407.9,94.6L1411.1,94.7L1414.4,94.8L1417.6,94.9L1420.8,94.9L1424.1,94.9L1427.3,94.9L1430.6,94.9L1433.8,94.8L1437.1,94.7L1440.3,94.6L1443.5,94.5L1446.8,94.3L1450.0,94.2L1453.2,94.0L1456.4,93.7L1459.7,93.5L1462.9,93.2L1466.1,93.0L1469.3,92.7L1472.5,92.3L1475.7,92.0L1478.9,91.6L1482.1,91.3L1485.2,90.9L1488.4,90.4L1490.0,90.2" stroke="#000000"/>
</g>
<text transform="translate(217.3,1151.4) scale(1,1.035)" text-anchor="middle" font-size="68px">0.3</text>
<text transform="translate(429.1,1151.4) scale(1,1.035)" text-anchor="middle" font-size="68px">0.4</text>
<text transform="translate(641.0,1151.4) scale(1,1.035)" text-anchor="middle" font-size="68px">0.5</text>
<text transform="translate(852.8,1151.4) scale(1,1.035)" text-anchor="middle" font-size="68px">0.6</text>
<text transform="translate(1064.6,1151.4) scale(1,1.035)" text-anchor="middle" font-size="68px">0.7</text>
<text transform="translate(1276.5,1151.4) scale(1,1.035)" text-anchor="middle" font-size="68px">0.8</text>
<text transform="translate(1488.3,1151.4) scale(1,1.035)" text-anchor="middle" font-size="68px">0.9</text>
<text transform="translate(194.5,72.7) scale(1,1.035)" text-anchor="end" font-size="68px">0</text>
<text transform="translate(194.5,414.4) scale(1,1.035)" text-anchor="end" font-size="68px">-10</text>
<text transform="translate(194.5,756.0) scale(1,1.035)" text-anchor="end" font-size="68px">-20</text>
<text transform="translate(194.5,1097.7) scale(1,1.035)" text-anchor="end" font-size="68px">-30</text>
<text transform="translate(852.5,1259.6) scale(1,1.02)" text-anchor="middle" font-size="68px">Frequency (THz)</text>
<text transform="translate(71,563.8) rotate(-90) scale(1.003,1.02)" text-anchor="middle" font-size="68px">Transmittance (dB)</text>
<g stroke-width="5" fill="none" stroke-linecap="round">
<path d="M964,775.5H1138" stroke="#0000ff"/>
<path d="M964,870.5H1138" stroke="#ff0000"/>
<path d="M964,966.5H1138" stroke="#000000"/>
</g>
<text transform="translate(1440.5,801.8) scale(1,1.04)" text-anchor="end" font-size="77px"><tspan font-style="italic">n</tspan> = 1.55</text>
<text transform="translate(1440.5,896.8) scale(1,1.04)" text-anchor="end" font-size="77px"><tspan font-style="italic">n</tspan> = 1.62</text>
<text transform="translate(1440.5,991.8) scale(1,1.04)" text-anchor="end" font-size="77px"><tspan font-style="italic">n</tspan> = 1.70</text>
</svg>
</body></html>
